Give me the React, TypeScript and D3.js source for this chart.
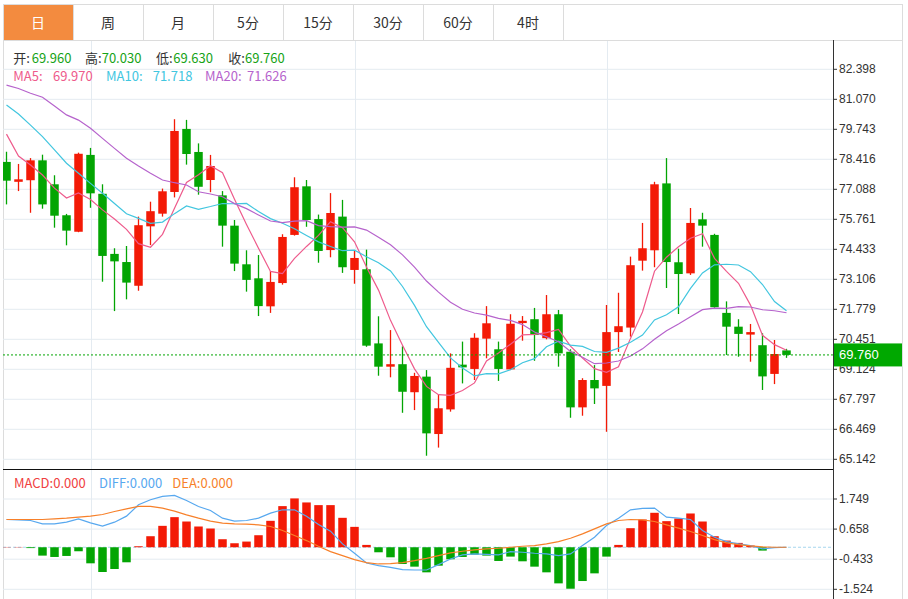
import React from 'react';
import * as d3 from 'd3';

const tabs = ['日', '周', '月', '5分', '15分', '30分', '60分', '4时'];

const opens = [78.30, 77.42, 77.49, 78.37, 77.31, 75.94, 75.21, 78.61, 76.89, 74.23, 73.87, 72.82, 75.45, 76.01, 76.97, 79.76, 78.74, 77.50, 76.82, 75.48, 73.77, 73.15, 71.91, 72.94, 75.07, 77.22, 75.77, 74.40, 75.88, 73.52, 73.55, 70.27, 69.24, 69.35, 68.11, 68.80, 66.26, 67.35, 69.33, 69.14, 70.48, 70.01, 69.12, 71.17, 71.34, 70.50, 71.56, 69.90, 67.44, 68.65, 68.39, 70.77, 70.97, 73.93, 74.39, 77.35, 73.86, 73.37, 75.76, 75.07, 71.62, 71.01, 70.66, 70.19, 68.92, 69.96];
const highs = [78.75, 78.21, 78.47, 78.62, 77.71, 76.00, 78.71, 78.92, 77.31, 74.48, 74.58, 75.88, 76.54, 77.12, 80.19, 80.16, 79.12, 78.61, 77.01, 75.73, 74.39, 74.18, 73.47, 75.10, 77.62, 77.50, 75.97, 76.92, 76.62, 74.36, 74.42, 71.47, 70.86, 70.14, 68.97, 69.09, 68.02, 69.83, 70.35, 70.72, 71.92, 70.35, 71.56, 71.48, 71.84, 72.41, 71.75, 70.01, 68.73, 69.31, 71.97, 72.51, 74.11, 75.60, 77.42, 78.47, 74.46, 76.26, 76.05, 75.12, 72.13, 71.34, 71.13, 70.72, 70.42, 70.03];
const lows = [76.42, 77.01, 76.05, 76.23, 75.39, 74.61, 75.19, 76.27, 73.00, 71.70, 72.22, 72.60, 74.62, 75.88, 76.73, 78.18, 76.85, 76.96, 74.55, 73.47, 72.56, 71.48, 71.62, 72.87, 75.04, 75.43, 73.84, 74.08, 73.39, 72.91, 70.12, 68.84, 68.77, 67.20, 67.32, 65.30, 65.66, 67.25, 68.50, 68.65, 69.61, 68.61, 69.09, 70.39, 69.50, 70.45, 69.24, 66.98, 67.07, 67.59, 66.36, 69.89, 70.57, 73.49, 73.64, 72.72, 71.57, 73.30, 74.55, 71.85, 69.76, 69.68, 69.46, 68.21, 68.47, 69.63];
const closes = [77.47, 77.53, 78.37, 76.42, 75.92, 75.26, 78.66, 76.91, 74.14, 73.90, 72.96, 75.50, 76.12, 77.00, 79.67, 78.65, 77.20, 78.12, 75.48, 73.80, 73.08, 71.92, 72.99, 74.98, 77.18, 75.73, 74.36, 76.04, 73.64, 74.05, 70.17, 69.24, 69.35, 68.13, 68.83, 66.29, 67.40, 69.19, 69.21, 70.52, 71.16, 69.14, 71.14, 71.27, 70.64, 71.56, 69.83, 67.44, 68.65, 68.28, 70.77, 71.03, 73.73, 74.48, 77.31, 73.87, 73.34, 75.60, 75.48, 71.87, 71.01, 70.69, 70.77, 68.81, 69.80, 69.76];

// moving-average values for the first candles (window starts before the visible data)
const ma5Head = [79.53, 78.56, 78.16, 77.72];
const ma10Head = [80.82, 80.42, 79.93, 79.42, 78.83, 78.24, 77.80, 77.35, 76.91];
const ma20Head = [81.70, 81.55, 81.34, 81.16, 80.77, 80.38, 80.15, 79.79, 79.34, 78.90, 78.46, 78.12, 77.80, 77.50, 77.38, 77.28, 76.98, 76.88, 76.76];

const macdHist = [0.01, 0.01, -0.03, -0.303, -0.352, -0.315, -0.145, -0.582, -0.897, -0.788, -0.545, 0.036, 0.40, 0.776, 1.091, 0.933, 0.752, 0.679, 0.291, 0.145, 0.206, 0.436, 0.958, 1.491, 1.770, 1.624, 1.527, 1.527, 1.067, 0.739, 0.085, -0.182, -0.364, -0.606, -0.703, -0.909, -0.667, -0.436, -0.352, -0.267, -0.303, -0.497, -0.339, -0.509, -0.703, -0.909, -1.309, -1.503, -1.224, -0.946, -0.339, 0.085, 0.691, 1.006, 1.249, 0.946, 1.042, 1.224, 0.933, 0.40, 0.242, 0.158, 0.061, -0.121, 0, 0];
const diffLine = [1.006, 0.994, 0.970, 0.849, 0.849, 0.909, 1.030, 0.885, 0.764, 0.909, 1.127, 1.539, 1.721, 1.843, 1.879, 1.697, 1.479, 1.333, 1.055, 0.946, 0.970, 1.055, 1.236, 1.358, 1.358, 1.127, 0.824, 0.582, 0.121, -0.218, -0.570, -0.667, -0.727, -0.812, -0.824, -0.824, -0.630, -0.424, -0.279, -0.242, -0.255, -0.279, -0.158, -0.182, -0.218, -0.242, -0.303, -0.242, 0.061, 0.364, 0.788, 1.055, 1.358, 1.406, 1.418, 1.091, 1.055, 1.006, 0.606, 0.364, 0.206, 0.121, 0.061, -0.061, -0.012, 0];
const deaLine = [1.006, 1.006, 1.006, 1.006, 1.030, 1.055, 1.091, 1.127, 1.188, 1.297, 1.394, 1.479, 1.479, 1.418, 1.309, 1.176, 1.055, 0.946, 0.873, 0.849, 0.836, 0.812, 0.752, 0.606, 0.424, 0.242, 0.036, -0.158, -0.303, -0.448, -0.558, -0.606, -0.594, -0.558, -0.485, -0.400, -0.303, -0.206, -0.145, -0.097, -0.061, -0.036, 0, 0.036, 0.061, 0.121, 0.206, 0.327, 0.485, 0.667, 0.849, 0.970, 1.006, 0.994, 0.933, 0.812, 0.691, 0.570, 0.424, 0.279, 0.158, 0.097, 0.048, 0.012, 0, 0];

const priceTicks = [82.398, 81.070, 79.743, 78.416, 77.088, 75.761, 74.433, 73.106, 71.779, 70.451, 69.124, 67.797, 66.469, 65.142];
const macdTicks = [1.749, 0.658, -0.433, -1.524];
const monthStartCandles = [7, 29, 50];

const ohlcLabels = ['开:', '高:', '低:', '收:'];
const ohlcValues = ['69.960', '70.030', '69.630', '69.760'];
const maNames = ['MA5:', 'MA10:', 'MA20:'];
const maValues = ['69.970', '71.718', '71.626'];
const macdLabels = ['MACD:0.000', 'DIFF:0.000', 'DEA:0.000'];
const lastPrice = 69.76;

const RED = '#f31a06';
const GREEN = '#03a503';
const MA_COLORS = ['#ee5b8c', '#42c6df', '#b663cc'];
const DIFF_C = '#57a8ef';
const DEA_C = '#f7802a';
const GRID = '#e4ebf1';
const CJK = '"Noto Sans CJK SC", "Noto Sans", sans-serif';
const AXF = '"Liberation Sans", Arial, sans-serif';

function movingAvg(head: number[], n: number): number[] {
  return closes.map((_, i) => (i < head.length ? head[i] : (d3.mean(closes.slice(i - n + 1, i + 1)) as number)));
}

export default function App() {
  const W = 908;
  const H = 599;
  const L = 3;
  const R = 833;
  const x = d3.scaleLinear().domain([0, closes.length - 1]).range([6.5, 786.5]);
  const y = d3.scaleLinear().domain([65.142, 82.398]).range([459.3, 69.3]);
  const yM = d3.scaleLinear().domain([-1.524, 1.749]).range([589.3, 499.0]);
  const bw = 8.5;

  const mas = [movingAvg(ma5Head, 5), movingAvg(ma10Head, 10), movingAvg(ma20Head, 20)];
  const line = d3.line<number>().x((_, i) => x(i)).y((d) => y(d));
  const lineM = d3.line<number>().x((_, i) => x(i)).y((d) => yM(d));

  const tabX = d3.scaleLinear().domain([0, tabs.length]).range([3, 3 + 70 * tabs.length]);
  const ohlcLX = [13.3, 85, 156, 228.3];
  const ohlcVX = [31.7, 101.7, 173.3, 245];
  const maNX = [13.3, 106, 205];
  const maVX = [53, 152.7, 247];
  const macdX = [14, 99, 172.3];

  return (
    <svg width={W} height={H} style={{ position: 'absolute', left: 0, top: 0, background: '#fff' }}>
      <defs>
        <clipPath id="mainClip">
          <rect x={L} y={41} width={R - L} height={428} />
        </clipPath>
        <clipPath id="macdClip">
          <rect x={L} y={470} width={R - L} height={129} />
        </clipPath>
      </defs>

      {/* tabs */}
      <rect x={3.5} y={5} width={69.5} height={35} fill="#f38b3f" />
      <line x1={3} x2={903} y1={4.5} y2={4.5} stroke="#dcdcdc" />
      <line x1={3} x2={903} y1={40.5} y2={40.5} stroke="#dcdcdc" />
      {tabs.map((t, i) => (
        <g key={t}>
          <line x1={tabX(i + 1) + 0.5} x2={tabX(i + 1) + 0.5} y1={4} y2={40} stroke="#dcdcdc" />
          <text x={(tabX(i) + tabX(i + 1)) / 2} y={22} textAnchor="middle" dominantBaseline="central" fontFamily={CJK} fontSize={14} fill={i === 0 ? '#fff' : '#333'}>
            {t}
          </text>
        </g>
      ))}
      <line x1={3.5} x2={3.5} y1={4} y2={599} stroke="#dcdcdc" />
      <line x1={902.5} x2={902.5} y1={4} y2={599} stroke="#dcdcdc" />

      {/* grid */}
      {priceTicks.map((t) => (
        <line key={'g' + t} x1={L} x2={R} y1={y(t)} y2={y(t)} stroke={GRID} />
      ))}
      {macdTicks.map((t) => (
        <line key={'gm' + t} x1={L} x2={R} y1={yM(t)} y2={yM(t)} stroke={GRID} />
      ))}
      {monthStartCandles.map((c) => (
        <line key={'v' + c} x1={Math.round(x(c)) + 0.5} x2={Math.round(x(c)) + 0.5} y1={41} y2={599} stroke={GRID} />
      ))}

      {/* candles */}
      <g clipPath="url(#mainClip)">
        {closes.map((c, i) => {
          const o = opens[i];
          const up = c >= o;
          const col = up ? RED : GREEN;
          const top = y(Math.max(o, c));
          const h = Math.max(2, Math.abs(y(o) - y(c)));
          return (
            <g key={'c' + i}>
              <line x1={x(i)} x2={x(i)} y1={y(highs[i])} y2={y(lows[i])} stroke={col} strokeWidth={1.3} />
              <rect x={x(i) - bw / 2} y={top} width={bw} height={h} fill={col} />
            </g>
          );
        })}
        {mas.map((m, k) => (
          <path key={'ma' + k} d={line(m) as string} fill="none" stroke={MA_COLORS[k]} strokeWidth={1.2} />
        ))}
      </g>

      {/* last price line */}
      <line x1={L} x2={R} y1={y(lastPrice)} y2={y(lastPrice)} stroke={GREEN} strokeDasharray="2,2" />

      {/* legend */}
      {ohlcLabels.map((l, i) => (
        <g key={'ol' + i}>
          <text x={ohlcLX[i]} y={57.7} dominantBaseline="central" fontFamily={CJK} fontSize={13} fill="#333">
            {l}
          </text>
          <text x={ohlcVX[i]} y={57.7} dominantBaseline="central" fontFamily={CJK} fontSize={13} fill="#17a317">
            {ohlcValues[i]}
          </text>
        </g>
      ))}
      {maNames.map((l, i) => (
        <g key={'ml' + i}>
          <text x={maNX[i]} y={75.7} dominantBaseline="central" fontFamily={CJK} fontSize={13} fill={MA_COLORS[i]}>
            {l}
          </text>
          <text x={maVX[i]} y={75.7} dominantBaseline="central" fontFamily={CJK} fontSize={13} fill={MA_COLORS[i]}>
            {maValues[i]}
          </text>
        </g>
      ))}

      {/* MACD */}
      <line x1={L} x2={R} y1={yM(0)} y2={yM(0)} stroke="#a6d6ee" strokeDasharray="3,2" />
      <g clipPath="url(#macdClip)">
        {macdHist.map((v, i) => (
          <rect key={'h' + i} x={x(i) - bw / 2} y={Math.min(yM(v), yM(0))} width={bw} height={Math.abs(yM(v) - yM(0))} fill={v >= 0 ? RED : GREEN} />
        ))}
        <path d={lineM(diffLine) as string} fill="none" stroke={DIFF_C} strokeWidth={1.2} />
        <path d={lineM(deaLine) as string} fill="none" stroke={DEA_C} strokeWidth={1.2} />
      </g>
      {macdLabels.map((l, i) => (
        <text key={'md' + i} x={macdX[i]} y={482} dominantBaseline="central" fontFamily={CJK} fontSize={13} fill={['#f04040', DIFF_C, DEA_C][i]}>
          {l}
        </text>
      ))}
      <line x1={L} x2={R} y1={469.5} y2={469.5} stroke="#111" />

      {/* right axis */}
      <line x1={R + 0.5} x2={R + 0.5} y1={40} y2={599} stroke="#333" />
      {priceTicks.map((t) => (
        <g key={'pt' + t}>
          <line x1={R} x2={R + 4} y1={y(t)} y2={y(t)} stroke="#333" />
          <text x={R + 6} y={y(t)} dominantBaseline="central" fontFamily={AXF} fontSize={12} fill="#333">
            {t.toFixed(3)}
          </text>
        </g>
      ))}
      {macdTicks.map((t) => (
        <g key={'mt' + t}>
          <line x1={R} x2={R + 4} y1={yM(t)} y2={yM(t)} stroke="#333" />
          <text x={R + 6} y={yM(t)} dominantBaseline="central" fontFamily={AXF} fontSize={12} fill="#333">
            {t.toFixed(3)}
          </text>
        </g>
      ))}
      <rect x={R + 1} y={y(lastPrice) - 11.5} width={68} height={23} fill="#00a800" />
      <text x={R + 6} y={y(lastPrice)} dominantBaseline="central" fontFamily={AXF} fontSize={13} fill="#fff">
        {lastPrice.toFixed(3)}
      </text>
    </svg>
  );
}
